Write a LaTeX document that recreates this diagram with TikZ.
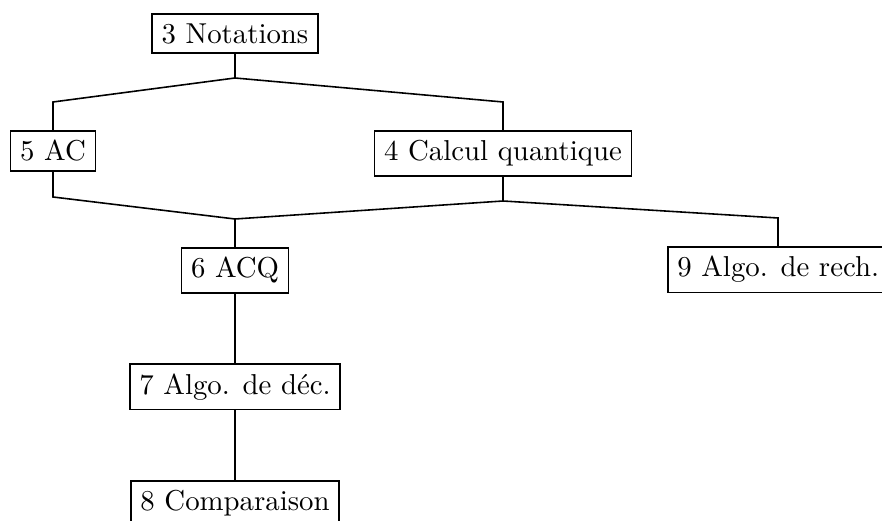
\documentclass[tikz,border=0pt]{standalone}
\begin{document}
\begin{tikzpicture}[x=0.3472pt,y=-0.3472pt,
  topic/.style={draw,line width=0.55pt,inner sep=3.33pt,font=\fontsize{10}{12}\selectfont},
  link/.style={line width=0.55pt}]
\useasboundingbox (0,0) rectangle (882,521);

% chapter boxes
\node[topic,anchor=north] (n3) at (235,13) {3 Notations};
\node[topic,anchor=north] (n5) at (53,130) {5 AC};
\node[topic,anchor=north] (n4) at (503,130) {4 Calcul quantique};
\node[topic,anchor=north] (n6) at (235,247) {6 ACQ};
\node[topic,anchor=north west] (n9) at (667,246) {9 Algo. de rech.};
\node[topic,anchor=north] (n7) at (235,363) {7 Algo. de d\'ec.};
\node[topic,anchor=north] (n8) at (235,480) {8 Comparaison};

% bend points of the dependency lines
\coordinate (j3) at (235,78);
\coordinate (a5) at (53,102);
\coordinate (a4) at (503,102);
\coordinate (b5) at (53,197);
\coordinate (j4) at (503,201);
\coordinate (j6) at (235,219);
\coordinate (a9) at (778,218);

% dependencies
\draw[link] (n3.south) -- (j3) -- (a5) -- (n5.north);
\draw[link] (j3) -- (a4) -- (n4.north);
\draw[link] (n5.south) -- (b5) -- (j6) -- (n6.north);
\draw[link] (n4.south) -- (j4) -- (j6);
\draw[link] (j4) -- (a9) -- (a9 |- n9.north);
\draw[link] (n6.south) -- (n7.north);
\draw[link] (n7.south) -- (n8.north);
\end{tikzpicture}
\end{document}
